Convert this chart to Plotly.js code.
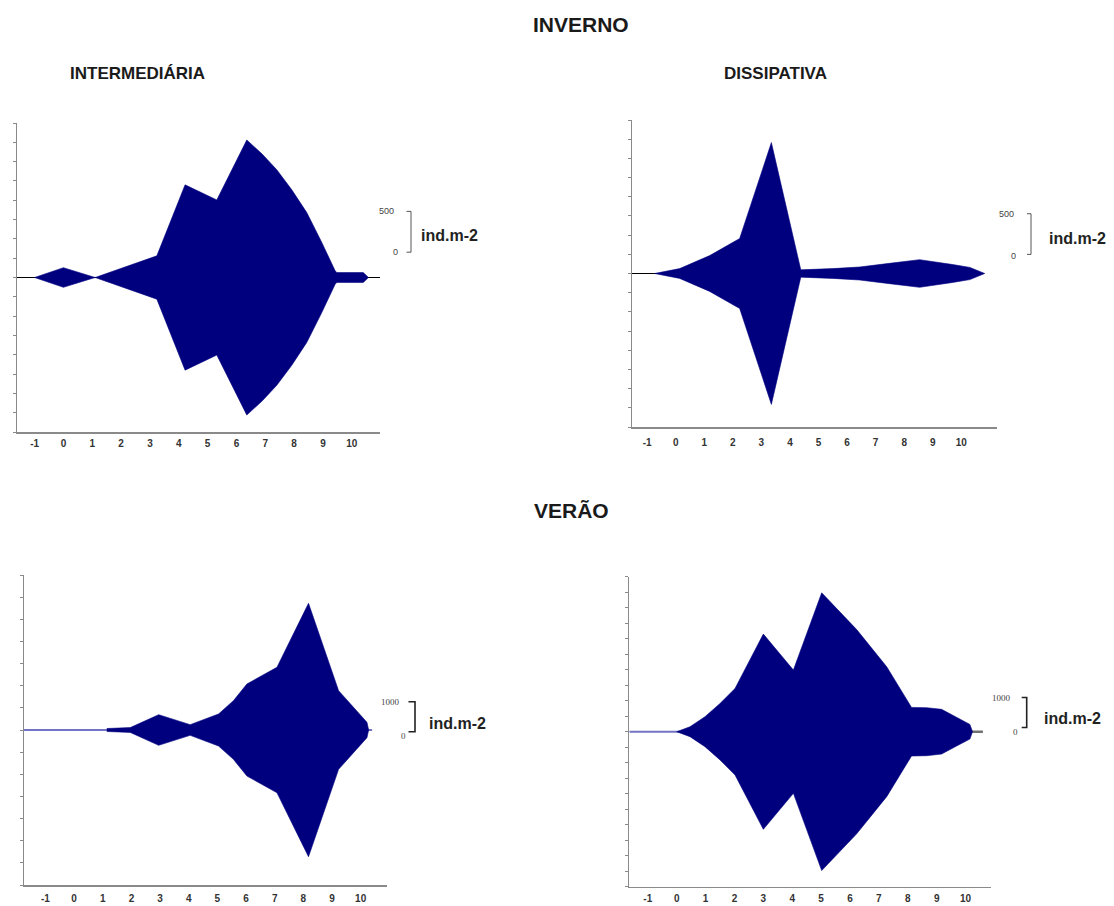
<!DOCTYPE html>
<html>
<head>
<meta charset="utf-8">
<script src="https://cdn.plot.ly/plotly-3.0.1.min.js"></script>
<style>html,body{margin:0;padding:0;background:#fff;}#chart{width:1114px;height:906px;}</style>
</head>
<body>
<div id="chart"></div>
<script>
// ---------- DATA ----------
const xTickVals = [-1, 0, 1, 2, 3, 4, 5, 6, 7, 8, 9, 10];
const xTickText = ["-1", "0", "1", "2", "3", "4", "5", "6", "7", "8", "9", "10"];

// INVERNO - INTERMEDIÁRIA (ind.m-2, kite half-width)
const invIntX = [-1.0, 0.0, 1.1, 3.24, 4.22, 5.32, 6.36, 6.9, 7.4, 7.92, 8.44, 8.96, 9.42, 9.48, 10.4, 10.58];
const invIntV = [0, 120, 0, 265, 1135, 950, 1685, 1510, 1320, 1075, 795, 430, 85, 60, 60, 0];

// INVERNO - DISSIPATIVA
const invDisX = [-0.74, 0.14, 1.19, 2.24, 3.35, 4.38, 5.5, 6.44, 7.49, 8.54, 9.7, 10.3, 10.82];
const invDisV = [0, 60, 220, 430, 1610, 45, 60, 80, 125, 170, 110, 75, 0];

// VERÃO - INTERMEDIÁRIA
const verIntX = [1.14, 1.96, 2.95, 4.05, 5.04, 5.56, 6.03, 7.08, 8.18, 9.23, 10.22, 10.28];
const verIntV = [50, 80, 510, 178, 533, 977, 1532, 2088, 4218, 1310, 255, 0];

// VERÃO - DISSIPATIVA
const verDisX = [0, 0.46, 0.98, 1.5, 2.02, 2.48, 3.0, 4.04, 5.02, 6.23, 7.27, 8.13, 8.65, 9.17, 9.69, 10.15, 10.24];
const verDisV = [0, 165, 500, 940, 1440, 2270, 3255, 2055, 4630, 3405, 2165, 810, 800, 745, 477, 244, 0];

const seasonTitles = ["INVERNO", "VERÃO"];
const beachTitles = ["INTERMEDIÁRIA", "DISSIPATIVA"];
const scaleValues = [500, 500, 1000, 1000];
const unitLabel = "ind.m-2";

// ---------- LAYOUT CONFIG ----------
const W = 1114, H = 906;
const FONT = "Liberation Sans, Arial, sans-serif";
const NAVY = "#00007f";

const panels = [
  {x: invIntX, v: invIntV, xdom: [17, 380], ydom: [123, 432], xr: [-1.61, 10.98], d: 236.6, n: 8,
   base: [{x0: -1.61, x1: 10.98, color: "#000000", w: 1.2}],
   bar: {off: 310, x: 411, xl: 406.5, topX: 386, zeroX: 395, zeroDy: 0, unitX: 419, unitY: 235, col: "#555", w: 1, lblFont: FONT},
   standoff: 1, tsize: 10},
  {x: invDisX, v: invDisV, xdom: [632, 997], ydom: [120, 427], xr: [-1.53, 11.25], d: 236, n: 8,
   base: [{x0: -1.53, x1: 0.2, color: "#000000", w: 1.2}],
   bar: {off: 235, x: 1031, xl: 1027, topX: 1006, zeroX: 1013, zeroDy: 1.5, unitX: 1047, unitY: 238, col: "#555", w: 1, lblFont: FONT},
   standoff: 5, tsize: 10},
  {x: verIntX, v: verIntV, xdom: [24, 387], ydom: [575, 885], xr: [-1.75, 10.92], d: 737, n: 7,
   base: [{x0: -1.75, x1: 10.4, color: "#7474c4", w: 2}],
   bar: {off: -60, x: 415, xl: 408.5, topX: 390, zeroX: 403, zeroDy: 4, unitX: 427, unitY: 723, col: "#222", w: 1.6, lblFont: "Liberation Serif, serif"},
   standoff: 3, tsize: 10},
  {x: verDisX, v: verDisV, xdom: [629.3, 990.7], ydom: [576.7, 886.7], xr: [-1.64, 10.87], d: 516.7, n: 10,
   base: [{x0: -1.64, x1: 0.1, color: "#7474c4", w: 2}, {x0: 10.2, x1: 10.6, color: "#707070", w: 2.5}],
   bar: {off: 140, x: 1026.7, xl: 1021.7, topX: 1001.7, zeroX: 1015, zeroDy: 4, unitX: 1042, unitY: 718, col: "#222", w: 1.6, lblFont: "Liberation Serif, serif"},
   standoff: 2, tsize: 10}
];

const px2x = p => p / W;
const px2y = p => 1 - p / H;

const traces = [];
const layout = {
  width: W, height: H,
  margin: {l: 0, r: 0, t: 0, b: 0},
  paper_bgcolor: "#ffffff", plot_bgcolor: "#ffffff",
  showlegend: false,
  font: {family: FONT, color: "#222"},
  shapes: [], annotations: []
};

panels.forEach((p, i) => {
  const k = i + 1;
  const xa = "xaxis" + (k === 1 ? "" : k), ya = "yaxis" + (k === 1 ? "" : k);
  const xid = "x" + (k === 1 ? "" : k), yid = "y" + (k === 1 ? "" : k);
  const R = p.d * p.n;
  const ydomP = [px2y(p.ydom[1]), px2y(p.ydom[0])];

  layout[xa] = {
    domain: [px2x(p.xdom[0]), px2x(p.xdom[1])], range: p.xr, anchor: yid,
    showgrid: false, zeroline: false, showline: true, linecolor: "#8a8a8a", linewidth: 1.5,
    ticks: "", tickvals: xTickVals, ticktext: xTickText, ticklabelstandoff: p.standoff,
    tickfont: {family: FONT, size: p.tsize, color: "#333", weight: "bold"}, fixedrange: true
  };
  layout[ya] = {
    domain: ydomP, range: [-R, R], anchor: xid,
    showgrid: false, zeroline: false, showline: true, linecolor: "#8a8a8a", linewidth: 1.5,
    ticks: "outside", ticklen: 3, tickcolor: "#8a8a8a", tickwidth: 1, tick0: 0, dtick: p.d,
    showticklabels: false, fixedrange: true
  };

  // baseline lines
  p.base.forEach(b => {
    traces.push({type: "scatter", mode: "lines", x: [b.x0, b.x1], y: [0, 0], xaxis: xid, yaxis: yid,
      line: {color: b.color, width: b.w}, hoverinfo: "skip"});
  });

  // kite
  const xs = p.x.concat(p.x.slice().reverse());
  const ys = p.v.concat(p.v.slice().reverse().map(a => -a));
  traces.push({type: "scatter", mode: "lines", x: xs, y: ys, xaxis: xid, yaxis: yid,
    fill: "toself", fillcolor: NAVY, line: {color: NAVY, width: 0.6}, hoverinfo: "skip"});

  // scale bar (converted from data units to paper coordinates)
  const s = scaleValues[i];
  const toPY = val => ydomP[0] + (val + R) / (2 * R) * (ydomP[1] - ydomP[0]);
  const yb = toPY(p.bar.off), yt = toPY(p.bar.off + s);
  const xr = px2x(p.bar.x), xl = px2x(p.bar.xl);
  layout.shapes.push({type: "path", xref: "paper", yref: "paper",
    path: `M ${xl} ${yt} L ${xr} ${yt} L ${xr} ${yb} L ${xl} ${yb}`,
    line: {color: p.bar.col, width: p.bar.w}});
  layout.annotations.push({xref: "paper", yref: "paper", x: px2x(p.bar.topX), y: yt, text: String(s),
    showarrow: false, xanchor: "center", yanchor: "middle", font: {family: p.bar.lblFont, size: 9, color: "#444"}});
  layout.annotations.push({xref: "paper", yref: "paper", x: px2x(p.bar.zeroX), y: yb - p.bar.zeroDy / H, text: "0",
    showarrow: false, xanchor: "center", yanchor: "middle", font: {family: p.bar.lblFont, size: 9, color: "#444"}});
  layout.annotations.push({xref: "paper", yref: "paper", x: px2x(p.bar.unitX), y: px2y(p.bar.unitY), text: unitLabel,
    showarrow: false, xanchor: "left", yanchor: "middle", font: {family: FONT, size: 16, color: "#222", weight: "bold"}});
});

// titles
const titleSpecs = [
  {t: seasonTitles[0], x: 581, y: 24, size: 21},
  {t: seasonTitles[1], x: 571, y: 510, size: 21},
  {t: beachTitles[0], x: 137, y: 74, size: 17},
  {t: beachTitles[1], x: 775, y: 74, size: 17}
];
titleSpecs.forEach(a => {
  layout.annotations.push({xref: "paper", yref: "paper", x: px2x(a.x), y: px2y(a.y), text: a.t,
    showarrow: false, xanchor: "center", yanchor: "middle", font: {family: FONT, size: a.size, color: "#1a1a1a", weight: "bold"}});
});

Plotly.newPlot("chart", traces, layout, {displayModeBar: false, staticPlot: true});
</script>
</body>
</html>
